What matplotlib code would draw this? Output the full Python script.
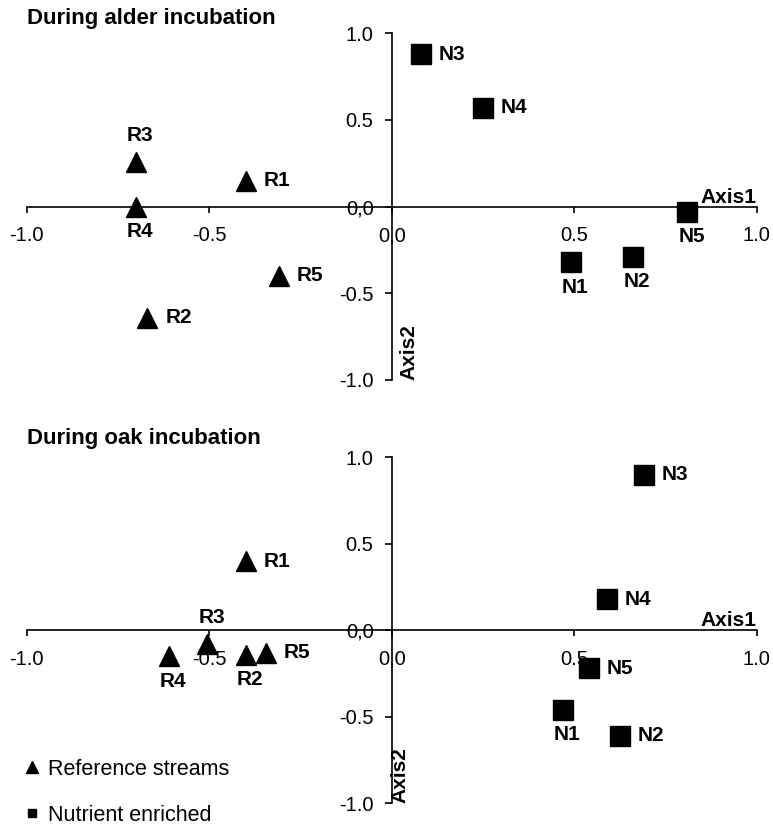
import matplotlib
matplotlib.use("Agg")
import matplotlib.pyplot as plt
from matplotlib import font_manager
from matplotlib.lines import Line2D

plt.rcParams['font.family'] = ['Liberation Sans', 'DejaVu Sans']

installed = {f.name for f in font_manager.fontManager.ttflist}
narrow = "Liberation Sans Narrow" if "Liberation Sans Narrow" in installed else "Liberation Sans"

ref_names = ["R1", "R2", "R3", "R4", "R5"]
enr_names = ["N1", "N2", "N3", "N4", "N5"]

# scores (axis1, axis2)
alder_ref_x = [-0.40, -0.67, -0.70, -0.70, -0.31]
alder_ref_y = [0.15, -0.64, 0.26, 0.00, -0.40]
alder_enr_x = [0.49, 0.66, 0.08, 0.25, 0.81]
alder_enr_y = [-0.32, -0.29, 0.88, 0.57, -0.03]

oak_ref_x = [-0.40, -0.40, -0.505, -0.61, -0.345]
oak_ref_y = [0.40, -0.14, -0.08, -0.15, -0.13]
oak_enr_x = [0.47, 0.625, 0.69, 0.59, 0.54]
oak_enr_y = [-0.46, -0.61, 0.90, 0.18, -0.22]

tick_vals = [-1.0, -0.5, 0.0, 0.5, 1.0]
tick_labels = ["-1.0", "-0.5", "0,0", "0.5", "1.0"]

# where each point label sits
alder_ref_pos = ["right", "right", "above", "below", "right"]
alder_enr_pos = ["below", "below", "right", "right", "below"]
oak_ref_pos = ["right", "below", "above", "below", "right"]
oak_enr_pos = ["below", "right", "right", "right", "right"]

offsets = {"right": ((13, 0), "left"),
           "below": ((3, -18), "center"),
           "above": ((3, 19), "center")}


def label_points(ax, xs, ys, names, where):
    for x, y, n, w in zip(xs, ys, names, where):
        off, ha = offsets[w]
        ax.annotate(n, (x, y), xytext=off, textcoords="offset points",
                    ha=ha, va="center", fontsize=15, fontweight="bold",
                    family=narrow, annotation_clip=False)


def draw_panel(ax, title, rx, ry, rpos, nx, ny, npos, axis2_x, title_pad):
    ax.plot(rx, ry, "^", color="black", markersize=15, zorder=3, clip_on=False)
    ax.plot(nx, ny, "s", color="black", markersize=14, zorder=3, clip_on=False)
    label_points(ax, rx, ry, ref_names, rpos)
    label_points(ax, nx, ny, enr_names, npos)

    ax.set_xlim(-1, 1)
    ax.set_ylim(-1, 1)
    ax.spines["left"].set_position(("data", 0))
    ax.spines["bottom"].set_position(("data", 0))
    ax.spines["top"].set_visible(False)
    ax.spines["right"].set_visible(False)
    for s in ("left", "bottom"):
        ax.spines[s].set_linewidth(1.2)
    ax.set_xticks(tick_vals)
    ax.set_xticklabels(tick_labels)
    ax.set_yticks(tick_vals)
    ax.set_yticklabels(tick_labels)
    ax.tick_params(axis="x", direction="out", length=4, width=1.2, pad=10, labelsize=14.5)
    ax.tick_params(axis="y", direction="out", length=5, width=1.2, pad=8, labelsize=14.5)
    ax.patch.set_visible(False)

    ax.annotate("Axis1", (1.0, 0.0), xytext=(0, 0), textcoords="offset points",
                ha="right", va="bottom", fontsize=15, fontweight="bold")
    ax.text(axis2_x, -1.0, "Axis2", rotation=90, ha="center", va="bottom",
            fontsize=15, fontweight="bold")
    ax.annotate(title, (0, 1), xycoords="axes fraction", xytext=(0, title_pad),
                textcoords="offset points", ha="left", va="center",
                fontsize=16, fontweight="bold")


fig = plt.figure(figsize=(7.73, 8.25), dpi=100)
ax1 = fig.add_axes([0.0345, 0.5394, 0.9444, 0.4202])
ax2 = fig.add_axes([0.0345, 0.0263, 0.9444, 0.4194])

draw_panel(ax1, "During alder incubation", alder_ref_x, alder_ref_y, alder_ref_pos,
           alder_enr_x, alder_enr_y, alder_enr_pos, 0.048, 11)
draw_panel(ax2, "During oak incubation", oak_ref_x, oak_ref_y, oak_ref_pos,
           oak_enr_x, oak_enr_y, oak_enr_pos, 0.022, 13.7)

handles = [Line2D([], [], marker="^", color="black", linestyle="none", markersize=8),
           Line2D([], [], marker="s", color="black", linestyle="none", markersize=6)]
fig.legend(handles, ["Reference streams", "Nutrient enriched"], loc="upper left",
           bbox_to_anchor=(0.031, 0.080), frameon=False, fontsize=15.5,
           handlelength=0.75, handletextpad=0.35, labelspacing=1.15,
           borderaxespad=0, borderpad=0)

fig.savefig("out.png", dpi=100)
